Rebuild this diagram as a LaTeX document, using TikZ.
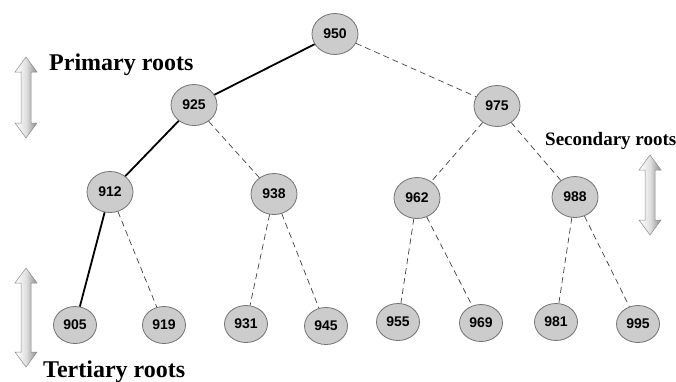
\documentclass[tikz,border=0pt]{standalone}
\usepackage{fontspec}
\setmainfont{Liberation Serif}
\newfontfamily\numfont{Liberation Sans}
\usetikzlibrary{shapes.geometric}
\tikzset{
  nd/.style={ellipse, draw=black!55, fill=black!20, line width=0.8pt, minimum width=46pt, minimum height=41pt, inner sep=0pt, font=\numfont\bfseries\fontsize{14}{14}\selectfont},
  lf/.style={nd, minimum width=43pt, minimum height=37pt},
  solidedge/.style={line width=1.8pt, black},
  dashedge/.style={dashed, line width=0.7pt, black!75, dash pattern=on 6pt off 4pt},
  lbl/.style={font=\bfseries\fontsize{24}{24}\selectfont, inner sep=0pt},
  arrowshade/.style={left color=white, right color=black!45, middle color=black!12, draw=black!45, line width=0.5pt}
}
\newcommand{\dblarrow}[3]{% x, ytop, ybottom
  \path[arrowshade] (#1,#2) -- (#1+11,#2+15) -- (#1+5,#2+15) -- (#1+5,#3-15) -- (#1+11,#3-15) -- (#1,#3) -- (#1-11,#3-15) -- (#1-5,#3-15) -- (#1-5,#2+15) -- (#1-11,#2+15) -- cycle;
}
\begin{document}
\begin{tikzpicture}[x=1pt,y=-1pt]
\useasboundingbox (0,0) rectangle (676,381);
% nodes
\node[nd] (n950) at (335,34) {950};
\node[nd] (n925) at (194,105) {925};
\node[nd] (n975) at (497,106) {975};
\node[nd] (n912) at (110,192) {912};
\node[nd] (n938) at (274,194) {938};
\node[nd] (n962) at (417,198) {962};
\node[nd] (n988) at (575,197) {988};
\node[lf] (n905) at (75,325) {905};
\node[lf] (n919) at (164,325) {919};
\node[lf] (n931) at (246,324) {931};
\node[lf] (n945) at (326,326) {945};
\node[lf] (n955) at (398,322) {955};
\node[lf] (n969) at (481,323) {969};
\node[lf] (n981) at (556,322) {981};
\node[lf] (n995) at (638,324) {995};
% edges
\draw[solidedge] (n950) -- (n925);
\draw[solidedge] (n925) -- (n912);
\draw[solidedge] (n912) -- (n905);
\draw[dashedge] (n950) -- (n975);
\draw[dashedge] (n925) -- (n938);
\draw[dashedge] (n975) -- (n962);
\draw[dashedge] (n975) -- (n988);
\draw[dashedge] (n912) -- (n919);
\draw[dashedge] (n938) -- (n931);
\draw[dashedge] (n938) -- (n945);
\draw[dashedge] (n962) -- (n955);
\draw[dashedge] (n962) -- (n969);
\draw[dashedge] (n988) -- (n981);
\draw[dashedge] (n988) -- (n995);
% labels
\node[lbl, anchor=base west] (lp) at (49,70) {Primary roots};
\node[lbl, anchor=base west] (lt) at (43,377) {Tertiary roots};
\node[lbl, anchor=base west, font=\bfseries\fontsize{19}{19}\selectfont] (ls) at (545,145) {Secondary roots};
% arrows
\dblarrow{26}{57}{138}
\dblarrow{26}{268}{367}
\dblarrow{650}{155}{235}
\end{tikzpicture}
\end{document}
